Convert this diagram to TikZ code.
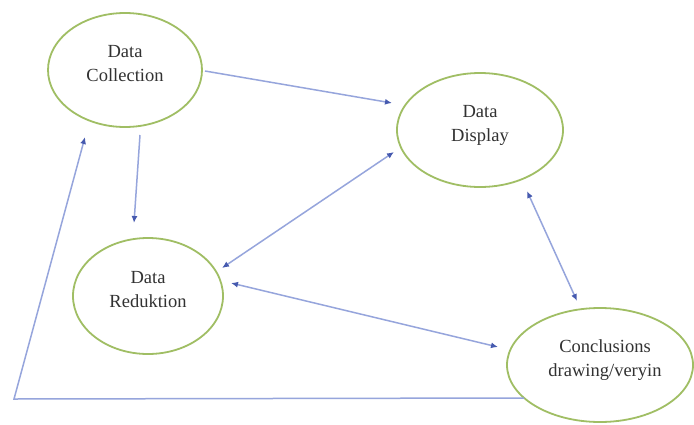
\documentclass[tikz,border=0pt]{standalone}
\usepackage{fontspec}
\setmainfont{Liberation Serif}
\usetikzlibrary{shapes.geometric,arrows.meta,calc}
\definecolor{ellgreen}{RGB}{160,190,100}
\definecolor{linkblue}{RGB}{150,165,220}
\definecolor{tipblue}{RGB}{70,90,175}
\definecolor{txtgray}{RGB}{50,50,50}
\tikzset{
  bubble/.style={ellipse, draw=ellgreen, line width=1.8pt, fill=white, inner sep=0pt},
  txt/.style={align=center, text=txtgray, font=\fontsize{18.5}{24}\selectfont},
  link/.style={draw=linkblue, line width=1.5pt},
  tipend/.style={-{Latex[length=7pt,width=6pt,color=tipblue]}},
  tipboth/.style={{Latex[length=7pt,width=6pt,color=tipblue]}-{Latex[length=7pt,width=6pt,color=tipblue]}}
}
\begin{document}
\begin{tikzpicture}[x=1pt,y=-1pt]
\useasboundingbox (0,0) rectangle (694,424);
\fill[white] (0,0) rectangle (694,424);
\node[bubble, minimum width=154pt, minimum height=114pt] (c) at (125,70) {};
\node[bubble, minimum width=166pt, minimum height=114pt] (d) at (480,130) {};
\node[bubble, minimum width=150pt, minimum height=116pt] (r) at (148,296) {};
\node[bubble, minimum width=186pt, minimum height=114pt] (k) at (600,365) {};
\node[txt] (ct) at ($(c)+(0,-6)$) {Data\\Collection};
\node[txt] (dt) at ($(d)+(0,-5)$) {Data\\Display};
\node[txt] (rt) at ($(r)+(0,-6)$) {Data\\Reduktion};
\node[txt] (kt) at ($(k)+(5,-5)$) {Conclusions\\drawing/veryin};
\draw[link,tipend] ($(c)+(80,1)$) -- ($(d)+(-88,-27)$);
\draw[link,tipend] ($(c)+(15,65)$) -- ($(r)+(-14,-73)$);
\draw[link,tipboth] ($(d)+(-86,22)$) -- ($(r)+(74,-28)$);
\draw[link,tipboth] ($(r)+(83,-13)$) -- ($(k)+(-102,-18)$);
\draw[link,tipboth] ($(d)+(47,61)$) -- ($(k)+(-23,-64)$);
\coordinate (corner) at (14,399);
\draw[link,tipend] ($(k)+(-76,33)$) -- (corner) -- ($(c)+(-40,67)$);
\end{tikzpicture}
\end{document}
